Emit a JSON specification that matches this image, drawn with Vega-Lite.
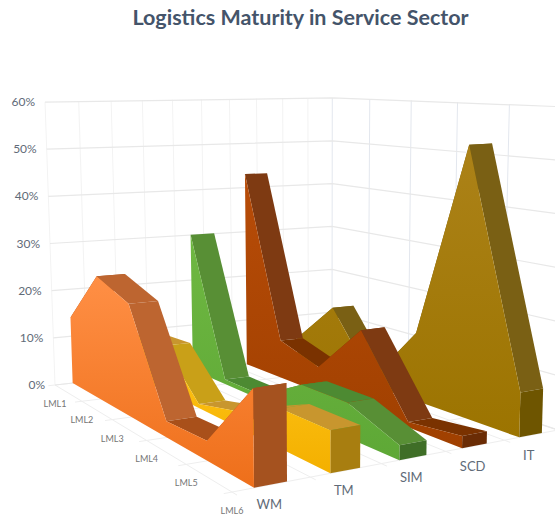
{"$schema":"https://vega.github.io/schema/vega-lite/v6.json","width":555,"height":515,"padding":0,"autosize":{"type":"none"},"background":"white","title":{"text":"Logistics Maturity in Service Sector","font":"Lato","fontSize":21.5,"fontWeight":"bold","color":"#44546a","anchor":"middle","frame":"group","dx":23,"dy":46,"offset":0,"baseline":"alphabetic"},"config":{"view":{"stroke":null}},"datasets":{"values":[{"series":"WM","level":"LML1","value":14},{"series":"WM","level":"LML2","value":25},{"series":"WM","level":"LML3","value":22},{"series":"WM","level":"LML4","value":3},{"series":"WM","level":"LML5","value":3.5},{"series":"WM","level":"LML6","value":16.5},{"series":"TM","level":"LML1","value":9},{"series":"TM","level":"LML2","value":9.5},{"series":"TM","level":"LML3","value":0.8},{"series":"TM","level":"LML4","value":3},{"series":"TM","level":"LML5","value":7.2},{"series":"TM","level":"LML6","value":7.3},{"series":"SIM","level":"LML1","value":30},{"series":"SIM","level":"LML2","value":1},{"series":"SIM","level":"LML3","value":1},{"series":"SIM","level":"LML4","value":6.3},{"series":"SIM","level":"LML5","value":6.4},{"series":"SIM","level":"LML6","value":2.6},{"series":"SCD","level":"LML1","value":43},{"series":"SCD","level":"LML2","value":8},{"series":"SCD","level":"LML3","value":5.2},{"series":"SCD","level":"LML4","value":15.5},{"series":"SCD","level":"LML5","value":1},{"series":"SCD","level":"LML6","value":2.2},{"series":"IT","level":"LML1","value":4.8},{"series":"IT","level":"LML2","value":14},{"series":"IT","level":"LML3","value":1.3},{"series":"IT","level":"LML4","value":13.6},{"series":"IT","level":"LML5","value":52.5},{"series":"IT","level":"LML6","value":8.2}],"frame":[{"id":"h60","group":"wall","l":0,"p":0,"pct":60,"o":0},{"id":"h60","group":"wall","l":0,"p":5,"pct":60,"o":1},{"id":"h60","group":"wall","l":5,"p":5,"pct":60,"o":2},{"id":"h50","group":"wall","l":0,"p":0,"pct":50,"o":0},{"id":"h50","group":"wall","l":0,"p":5,"pct":50,"o":1},{"id":"h50","group":"wall","l":5,"p":5,"pct":50,"o":2},{"id":"h40","group":"wall","l":0,"p":0,"pct":40,"o":0},{"id":"h40","group":"wall","l":0,"p":5,"pct":40,"o":1},{"id":"h40","group":"wall","l":5,"p":5,"pct":40,"o":2},{"id":"h30","group":"wall","l":0,"p":0,"pct":30,"o":0},{"id":"h30","group":"wall","l":0,"p":5,"pct":30,"o":1},{"id":"h30","group":"wall","l":5,"p":5,"pct":30,"o":2},{"id":"h20","group":"wall","l":0,"p":0,"pct":20,"o":0},{"id":"h20","group":"wall","l":0,"p":5,"pct":20,"o":1},{"id":"h20","group":"wall","l":5,"p":5,"pct":20,"o":2},{"id":"h10","group":"wall","l":0,"p":0,"pct":10,"o":0},{"id":"h10","group":"wall","l":0,"p":5,"pct":10,"o":1},{"id":"h10","group":"wall","l":5,"p":5,"pct":10,"o":2},{"id":"h0","group":"wall","l":0,"p":0,"pct":0,"o":0},{"id":"h0","group":"wall","l":0,"p":5,"pct":0,"o":1},{"id":"h0","group":"wall","l":5,"p":5,"pct":0,"o":2},{"id":"a0","group":"left","l":0,"p":0,"pct":0,"o":0},{"id":"a0","group":"left","l":0,"p":0,"pct":60,"o":1},{"id":"a1","group":"left","l":0,"p":0.5,"pct":0,"o":0},{"id":"a1","group":"left","l":0,"p":0.5,"pct":60,"o":1},{"id":"a2","group":"left","l":0,"p":1,"pct":0,"o":0},{"id":"a2","group":"left","l":0,"p":1,"pct":60,"o":1},{"id":"a3","group":"left","l":0,"p":1.5,"pct":0,"o":0},{"id":"a3","group":"left","l":0,"p":1.5,"pct":60,"o":1},{"id":"a4","group":"left","l":0,"p":2,"pct":0,"o":0},{"id":"a4","group":"left","l":0,"p":2,"pct":60,"o":1},{"id":"a5","group":"left","l":0,"p":2.5,"pct":0,"o":0},{"id":"a5","group":"left","l":0,"p":2.5,"pct":60,"o":1},{"id":"a6","group":"left","l":0,"p":3,"pct":0,"o":0},{"id":"a6","group":"left","l":0,"p":3,"pct":60,"o":1},{"id":"a7","group":"left","l":0,"p":3.5,"pct":0,"o":0},{"id":"a7","group":"left","l":0,"p":3.5,"pct":60,"o":1},{"id":"a8","group":"left","l":0,"p":4,"pct":0,"o":0},{"id":"a8","group":"left","l":0,"p":4,"pct":60,"o":1},{"id":"a9","group":"left","l":0,"p":4.5,"pct":0,"o":0},{"id":"a9","group":"left","l":0,"p":4.5,"pct":60,"o":1},{"id":"b0","group":"right","l":0,"p":5,"pct":0,"o":0},{"id":"b0","group":"right","l":0,"p":5,"pct":60,"o":1},{"id":"b1","group":"right","l":1,"p":5,"pct":0,"o":0},{"id":"b1","group":"right","l":1,"p":5,"pct":60,"o":1},{"id":"b2","group":"right","l":2,"p":5,"pct":0,"o":0},{"id":"b2","group":"right","l":2,"p":5,"pct":60,"o":1},{"id":"b3","group":"right","l":3,"p":5,"pct":0,"o":0},{"id":"b3","group":"right","l":3,"p":5,"pct":60,"o":1},{"id":"b4","group":"right","l":4,"p":5,"pct":0,"o":0},{"id":"b4","group":"right","l":4,"p":5,"pct":60,"o":1},{"id":"c0","group":"floor","l":0,"p":-0.1,"pct":0,"o":0},{"id":"c0","group":"floor","l":0,"p":5,"pct":0,"o":1},{"id":"c1","group":"floor","l":1,"p":-0.1,"pct":0,"o":0},{"id":"c1","group":"floor","l":1,"p":5,"pct":0,"o":1},{"id":"c2","group":"floor","l":2,"p":-0.1,"pct":0,"o":0},{"id":"c2","group":"floor","l":2,"p":5,"pct":0,"o":1},{"id":"c3","group":"floor","l":3,"p":-0.1,"pct":0,"o":0},{"id":"c3","group":"floor","l":3,"p":5,"pct":0,"o":1},{"id":"c4","group":"floor","l":4,"p":-0.1,"pct":0,"o":0},{"id":"c4","group":"floor","l":4,"p":5,"pct":0,"o":1},{"id":"c5","group":"floor","l":5,"p":-0.1,"pct":0,"o":0},{"id":"c5","group":"floor","l":5,"p":5,"pct":0,"o":1},{"id":"d0","group":"floor","l":0,"p":0,"pct":0,"o":0},{"id":"d0","group":"floor","l":5.1,"p":0,"pct":0,"o":1},{"id":"d1","group":"floor","l":0,"p":1,"pct":0,"o":0},{"id":"d1","group":"floor","l":5.1,"p":1,"pct":0,"o":1},{"id":"d2","group":"floor","l":0,"p":2,"pct":0,"o":0},{"id":"d2","group":"floor","l":5.1,"p":2,"pct":0,"o":1},{"id":"d3","group":"floor","l":0,"p":3,"pct":0,"o":0},{"id":"d3","group":"floor","l":5.1,"p":3,"pct":0,"o":1},{"id":"d4","group":"floor","l":0,"p":4,"pct":0,"o":0},{"id":"d4","group":"floor","l":5.1,"p":4,"pct":0,"o":1},{"id":"d5","group":"floor","l":0,"p":5,"pct":0,"o":0},{"id":"d5","group":"floor","l":5,"p":5,"pct":0,"o":1},{"group":"pctlabel","label":"60%","l":0,"p":0,"pct":60},{"group":"pctlabel","label":"50%","l":0,"p":0,"pct":50},{"group":"pctlabel","label":"40%","l":0,"p":0,"pct":40},{"group":"pctlabel","label":"30%","l":0,"p":0,"pct":30},{"group":"pctlabel","label":"20%","l":0,"p":0,"pct":20},{"group":"pctlabel","label":"10%","l":0,"p":0,"pct":10},{"group":"pctlabel","label":"0%","l":0,"p":0,"pct":0},{"group":"levellabel","label":"LML1","l":0,"p":0,"pct":0},{"group":"levellabel","label":"LML2","l":1,"p":0,"pct":0},{"group":"levellabel","label":"LML3","l":2,"p":0,"pct":0},{"group":"levellabel","label":"LML4","l":3,"p":0,"pct":0},{"group":"levellabel","label":"LML5","l":4,"p":0,"pct":0},{"group":"levellabel","label":"LML6","l":5,"p":0,"pct":0},{"group":"serieslabel","label":"WM","l":5,"p":0.5,"pct":0},{"group":"serieslabel","label":"TM","l":5,"p":1.5,"pct":0},{"group":"serieslabel","label":"SIM","l":5,"p":2.5,"pct":0},{"group":"serieslabel","label":"SCD","l":5,"p":3.5,"pct":0},{"group":"serieslabel","label":"IT","l":5,"p":4.5,"pct":0}]},"layer":[{"data":{"name":"frame"},"transform":[{"calculate":"datum.l/5","as":"s"},{"calculate":"datum.p/5","as":"t"},{"calculate":"datum.pct","as":"z"},{"calculate":"1-0.2836*datum.s+0.1922*datum.t","as":"w"},{"calculate":"(111.2*datum.s+340.8*datum.t+55)/datum.w","as":"x0"},{"calculate":"(-32.5*datum.s+38.2*datum.t+385)/datum.w","as":"y0"},{"calculate":"1/(0.003534-0.000795*datum.s+0.000357*datum.t)","as":"H"},{"calculate":"datum.y0-datum.H*datum.z/60","as":"py"},{"calculate":"datum.x0+(datum.x0-323)*datum.H*(datum.z/60)/7600","as":"px"}],"encoding":{"x":{"field":"px","type":"quantitative","axis":null,"scale":{"domain":[0,555],"nice":false,"zero":false}},"y":{"field":"py","type":"quantitative","axis":null,"scale":{"domain":[515,0],"nice":false,"zero":false}}},"layer":[{"transform":[{"filter":"datum.group==='floor'"}],"mark":{"type":"line","stroke":"#eeeeee","strokeWidth":1,"clip":true},"encoding":{"detail":{"field":"id"},"order":{"field":"o"}}},{"transform":[{"filter":"datum.group==='left'"}],"mark":{"type":"line","stroke":"#f3f3f3","strokeWidth":1},"encoding":{"detail":{"field":"id"},"order":{"field":"o"}}},{"transform":[{"filter":"datum.group==='right'"}],"mark":{"type":"line","stroke":"#e3e7ee","strokeWidth":1},"encoding":{"detail":{"field":"id"},"order":{"field":"o"}}},{"transform":[{"filter":"datum.group==='wall'"}],"mark":{"type":"line","stroke":"#e8e8e8","strokeWidth":1.2},"encoding":{"detail":{"field":"id"},"order":{"field":"o"}}},{"transform":[{"filter":"datum.group==='pctlabel'"}],"mark":{"type":"text","align":"right","baseline":"middle","dx":-10,"font":"Lato","fontSize":12,"fill":"#5f6b78"},"encoding":{"text":{"field":"label"}}},{"transform":[{"filter":"datum.group==='levellabel'"}],"mark":{"type":"text","align":"center","baseline":"middle","dy":19,"font":"Lato","fontSize":9,"fill":"#757575"},"encoding":{"text":{"field":"label"}}},{"transform":[{"filter":"datum.group==='serieslabel'"}],"mark":{"type":"text","align":"center","baseline":"middle","dx":-3,"dy":21,"font":"Lato","fontSize":13,"fill":"#5f6b78"},"encoding":{"text":{"field":"label"}}}]},{"data":{"name":"values"},"transform":[{"calculate":"indexof(['LML1','LML2','LML3','LML4','LML5','LML6'],datum.level)","as":"l"},{"calculate":"indexof(['WM','TM','SIM','SCD','IT'],datum.series)","as":"si"},{"window":[{"op":"lead","field":"value","as":"next"}],"groupby":["series"],"sort":[{"field":"l","order":"ascending"}]},{"calculate":"[0,1,2,3,4,5]","as":"c"},{"flatten":["c"]},{"calculate":"datum.next===null?'end':(datum.next<=datum.value-3?'fall':'flat')","as":"kind"},{"calculate":"datum.series+' '+datum.kind","as":"key"},{"calculate":"(datum.l+((datum.next!==null&&(datum.c==1||datum.c==2))?1:0))/5","as":"s"},{"calculate":"(datum.next!==null?(datum.c==2||datum.c==3):(datum.c==1||datum.c==2))","as":"isback"},{"calculate":"(datum.si+(datum.isback?0.69:0.27))/5","as":"t"},{"calculate":"datum.c==5?0:(datum.c==4?datum.value:(datum.next!==null?((datum.c==1||datum.c==2)?datum.next:datum.value):(datum.c<=1?datum.value:0)))","as":"z"},{"calculate":"1-0.2836*datum.s+0.1922*datum.t","as":"w"},{"calculate":"(111.2*datum.s+340.8*datum.t+55)/datum.w","as":"x0"},{"calculate":"(-32.5*datum.s+38.2*datum.t+385)/datum.w","as":"y0"},{"calculate":"1/(0.003534-0.000795*datum.s+0.000357*datum.t)","as":"H"},{"calculate":"datum.y0-datum.H*datum.z/60","as":"py"},{"calculate":"datum.x0+(datum.x0-323)*datum.H*(datum.z/60)/7600","as":"px"},{"calculate":"datum.c==4?datum.l:(datum.c==5?20-datum.l:datum.c)","as":"ord"}],"encoding":{"x":{"field":"px","type":"quantitative","axis":null,"scale":{"domain":[0,555],"nice":false,"zero":false}},"y":{"field":"py","type":"quantitative","axis":null,"scale":{"domain":[515,0],"nice":false,"zero":false}}},"layer":[{"transform":[{"filter":"datum.series==='IT'&&datum.c<4"}],"mark":{"type":"line","strokeWidth":0,"clip":true},"encoding":{"detail":{"field":"l"},"order":{"field":"ord"},"fill":{"field":"key","legend":null,"scale":{"domain":["WM fall","WM flat","WM end","TM fall","TM flat","TM end","SIM fall","SIM flat","SIM end","SCD fall","SCD flat","SCD end","IT fall","IT flat","IT end"],"range":["#bd6530","#a9501a","#a5521f","#c9a018","#c8962e","#a87e10","#588f35","#4d8a32","#3f6e27","#7e3a12","#7a3200","#6a2c05","#7a6014","#7a5e08","#6e5500"]}}}},{"transform":[{"filter":"datum.series==='IT'&&datum.c>=4"}],"mark":{"type":"line","strokeWidth":0,"clip":true,"fill":{"gradient":"linear","x1":0,"y1":0,"x2":0,"y2":1,"stops":[{"offset":0,"color":"#ac8218"},{"offset":1,"color":"#9c7400"}]}},"encoding":{"order":{"field":"ord"}}},{"transform":[{"filter":"datum.series==='SCD'&&datum.c<4"}],"mark":{"type":"line","strokeWidth":0},"encoding":{"detail":{"field":"l"},"order":{"field":"ord"},"fill":{"field":"key","legend":null}}},{"transform":[{"filter":"datum.series==='SCD'&&datum.c>=4"}],"mark":{"type":"line","strokeWidth":0,"fill":{"gradient":"linear","x1":0,"y1":0,"x2":0,"y2":1,"stops":[{"offset":0,"color":"#b84c08"},{"offset":1,"color":"#a04000"}]}},"encoding":{"order":{"field":"ord"}}},{"transform":[{"filter":"datum.series==='SIM'&&datum.c<4"}],"mark":{"type":"line","strokeWidth":0},"encoding":{"detail":{"field":"l"},"order":{"field":"ord"},"fill":{"field":"key","legend":null}}},{"transform":[{"filter":"datum.series==='SIM'&&datum.c>=4"}],"mark":{"type":"line","strokeWidth":0,"fill":{"gradient":"linear","x1":0,"y1":0,"x2":0,"y2":1,"stops":[{"offset":0,"color":"#6fb842"},{"offset":1,"color":"#5ea836"}]}},"encoding":{"order":{"field":"ord"}}},{"transform":[{"filter":"datum.series==='TM'&&datum.c<4"}],"mark":{"type":"line","strokeWidth":0},"encoding":{"detail":{"field":"l"},"order":{"field":"ord"},"fill":{"field":"key","legend":null}}},{"transform":[{"filter":"datum.series==='TM'&&datum.c>=4"}],"mark":{"type":"line","strokeWidth":0,"fill":{"gradient":"linear","x1":0,"y1":0,"x2":0,"y2":1,"stops":[{"offset":0,"color":"#ffc61a"},{"offset":1,"color":"#f4b000"}]}},"encoding":{"order":{"field":"ord"}}},{"transform":[{"filter":"datum.series==='WM'&&datum.c<4"}],"mark":{"type":"line","strokeWidth":0},"encoding":{"detail":{"field":"l"},"order":{"field":"ord"},"fill":{"field":"key","legend":null}}},{"transform":[{"filter":"datum.series==='WM'&&datum.c>=4"}],"mark":{"type":"line","strokeWidth":0,"fill":{"gradient":"linear","x1":0,"y1":0,"x2":0,"y2":1,"stops":[{"offset":0,"color":"#ff8f45"},{"offset":1,"color":"#ee6f1a"}]}},"encoding":{"order":{"field":"ord"}}}]}]}
